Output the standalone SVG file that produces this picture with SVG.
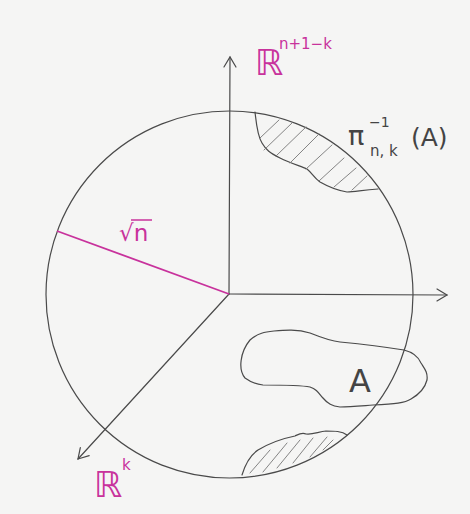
<svg xmlns="http://www.w3.org/2000/svg" width="470" height="514" viewBox="0 0 470 514">
<defs>
<style>
.ink{fill:none;stroke:#4a4a4a;stroke-width:1.2;stroke-linecap:round;stroke-linejoin:round}
.hatch{fill:none;stroke:#777;stroke-width:0.9;stroke-linecap:round}
.mag{fill:#c8329c;font-family:"DejaVu Sans",sans-serif}
.lbl{fill:#444;font-family:"DejaVu Sans",sans-serif}
</style>
<marker id="arr" markerWidth="14" markerHeight="14" refX="12" refY="7" orient="auto" markerUnits="userSpaceOnUse">
<polyline points="2,1 12,7 2,13" fill="none" stroke="#4a4a4a" stroke-width="1.2" stroke-linecap="round"/>
</marker>
</defs>
<rect width="470" height="514" fill="#f5f5f4"/>
<g id="ball">
<circle cx="229.5" cy="294.5" r="183.5" class="ink"/>
</g>
<g id="connectors">
<line x1="229" y1="294" x2="230" y2="57" class="ink" marker-end="url(#arr)"/>
<line x1="229" y1="294" x2="447" y2="295" class="ink" marker-end="url(#arr)"/>
<line x1="229" y1="294" x2="78" y2="459" class="ink" marker-end="url(#arr)"/>
<line x1="229" y1="294" x2="57" y2="231" stroke="#c8329c" stroke-width="1.8"/>
</g>
<g id="preimage-top">
<path class="ink" d="M255,112 C256,120 257,135 262,143 C266,150 270,153 280,158 C290,163 300,166 307,169 C312,173 314,178 320,182 C327,186 335,190 347,192 C355,192 362,190 378,189"/>
<line class="hatch" x1="260" y1="138" x2="279" y2="120"/>
<line class="hatch" x1="264" y1="150" x2="292" y2="123"/>
<line class="hatch" x1="276" y1="156" x2="306" y2="127"/>
<line class="hatch" x1="290" y1="163" x2="319" y2="134"/>
<line class="hatch" x1="306" y1="169" x2="332" y2="145"/>
<line class="hatch" x1="319" y1="181" x2="344" y2="158"/>
<line class="hatch" x1="334" y1="187" x2="356" y2="168"/>
<line class="hatch" x1="352" y1="190" x2="367" y2="176"/>
</g>
<g id="preimage-bottom">
<path class="ink" d="M242,475 C245,465 249,456 258,450 C268,444 280,439 295,436 C299,434 302,432 306,434 C312,435 318,432 326,431 C334,431 342,431 347,435"/>
<line class="hatch" x1="250" y1="473" x2="270" y2="450"/>
<line class="hatch" x1="263" y1="472" x2="287" y2="443"/>
<line class="hatch" x1="277" y1="468" x2="300" y2="440"/>
<line class="hatch" x1="293" y1="463" x2="313" y2="438"/>
<line class="hatch" x1="310" y1="457" x2="327" y2="437"/>
<line class="hatch" x1="323" y1="450" x2="333" y2="440"/>
</g>
<g id="set-A">
<path class="ink" d="M245,378 C238,370 240,352 250,340 C258,333 265,332 274,331 C285,330 297,329 310,333 C320,337 330,341 340,342 C360,344 385,347 404,350 C412,352 418,356 421,363 C424,368 428,372 427,380 C425,388 418,395 411,399 C405,403 395,404 373,405 C360,406 350,407 340,407 C332,406 328,404 322,397 C318,392 316,389 310,387 C300,385 280,385 263,385 C255,384 249,381 245,378 Z"/>
<text x="349" y="392" class="lbl" font-size="32">A</text>
</g>
<g id="labels">
<text x="255" y="75" class="mag" font-size="36">ℝ</text>
<text x="279" y="49" class="mag" font-size="15">n+1−k</text>
<text x="94" y="497" class="mag" font-size="36">ℝ</text>
<text x="122" y="470" class="mag" font-size="15">k</text>
<text x="119" y="241" class="mag" font-size="23">√n</text>
<line x1="131" y1="220" x2="152" y2="220" stroke="#c8329c" stroke-width="1.5"/>
<text x="348" y="145" class="lbl" font-size="27">π</text>
<text x="369" y="127" class="lbl" font-size="14">−1</text>
<text x="370" y="156" class="lbl" font-size="15">n, k</text>
<text x="411" y="146" class="lbl" font-size="25">(A)</text>
</g>
</svg>
